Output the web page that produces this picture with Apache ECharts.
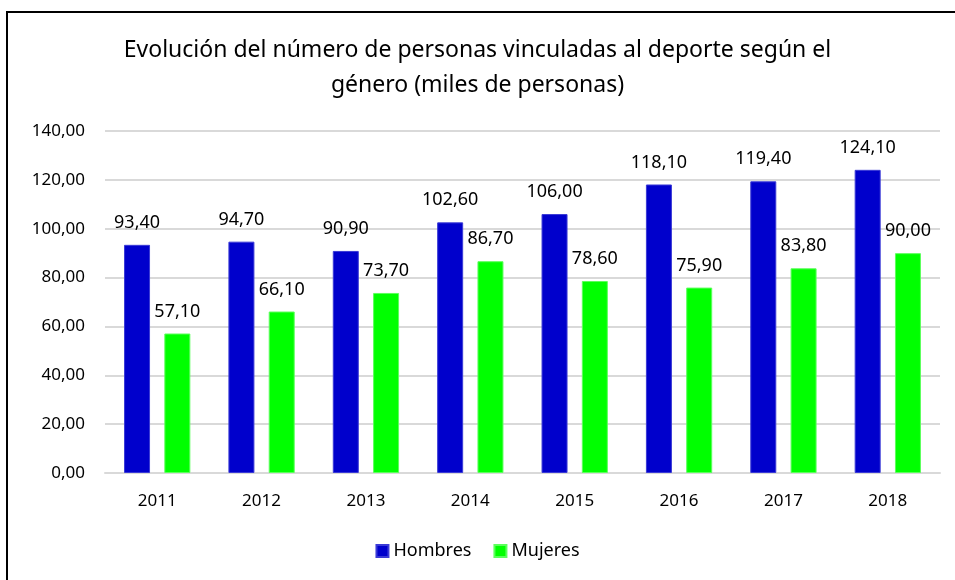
<!DOCTYPE html>
<html>
<head>
<meta charset="utf-8">
<script src="https://cdn.jsdelivr.net/npm/echarts@6/dist/echarts.min.js"></script>
<style>
  html, body { margin: 0; padding: 0; background: #fff; }
  #chart { width: 955px; height: 580px; }
</style>
</head>
<body>
<div id="chart"></div>
<script>
const years = ["2011", "2012", "2013", "2014", "2015", "2016", "2017", "2018"];
const hombres = [93.4, 94.7, 90.9, 102.6, 106.0, 118.1, 119.4, 124.1];
const mujeres = [57.1, 66.1, 73.7, 86.7, 78.6, 75.9, 83.8, 90.0];
const yTicks = [0, 20, 40, 60, 80, 100, 120, 140];

const FONT = "Noto Sans";

function fmt(v) {
  return v.toFixed(2).replace(".", ",");
}

var chart = echarts.init(document.getElementById("chart"));

var option = {
  animation: false,
  textStyle: { fontFamily: FONT },
  title: {
    text: "Evolución del número de personas vinculadas al deporte según el\ngénero (miles de personas)",
    left: "center",
    top: 28,
    textStyle: {
      fontFamily: FONT,
      fontSize: 23,
      fontWeight: "normal",
      color: "#000",
      lineHeight: 35,
    },
  },
  graphic: [
    {
      type: "rect",
      shape: { x: 7, y: 12, width: 960, height: 600 },
      style: { fill: "none", stroke: "#000", lineWidth: 2 },
      silent: true,
    },
  ],
  legend: {
    bottom: 15,
    left: "center",
    itemWidth: 12,
    itemHeight: 12,
    itemGap: 22,
    icon: "rect",
    textStyle: { fontFamily: FONT, fontSize: 18, color: "#000" },
    data: ["Hombres", "Mujeres"],
  },
  grid: {
    left: 105,
    right: 15,
    top: 131,
    bottom: 107,
  },
  xAxis: {
    type: "category",
    data: years,
    axisTick: { show: false },
    axisLine: { lineStyle: { color: "#d9d9d9", width: 2 } },
    axisLabel: {
      fontFamily: FONT,
      fontSize: 17,
      color: "#000",
      margin: 20,
    },
  },
  yAxis: {
    type: "value",
    min: yTicks[0],
    max: yTicks[yTicks.length - 1],
    interval: 20,
    axisLine: { show: false },
    axisTick: { show: false },
    splitLine: { lineStyle: { color: "#d9d9d9", width: 2 } },
    axisLabel: {
      fontFamily: FONT,
      fontSize: 17,
      color: "#000",
      margin: 20,
      formatter: (v) => fmt(v),
    },
  },
  series: [
    {
      name: "Hombres",
      type: "bar",
      data: hombres,
      barWidth: 26,
      barGap: "55%",
      itemStyle: { color: "#0000CC", borderColor: "#3a3ad6", borderWidth: 1 },
      label: {
        show: true,
        position: "top",
        distance: 13,
        fontFamily: FONT,
        fontSize: 18,
        color: "#000",
        formatter: (p) => fmt(p.value),
      },
    },
    {
      name: "Mujeres",
      type: "bar",
      data: mujeres,
      barWidth: 26,
      itemStyle: { color: "#00FF00", borderColor: "#5cff5c", borderWidth: 1 },
      label: {
        show: true,
        position: "top",
        distance: 13,
        fontFamily: FONT,
        fontSize: 18,
        color: "#000",
        formatter: (p) => fmt(p.value),
      },
    },
  ],
};

chart.setOption(option);
</script>
</body>
</html>
